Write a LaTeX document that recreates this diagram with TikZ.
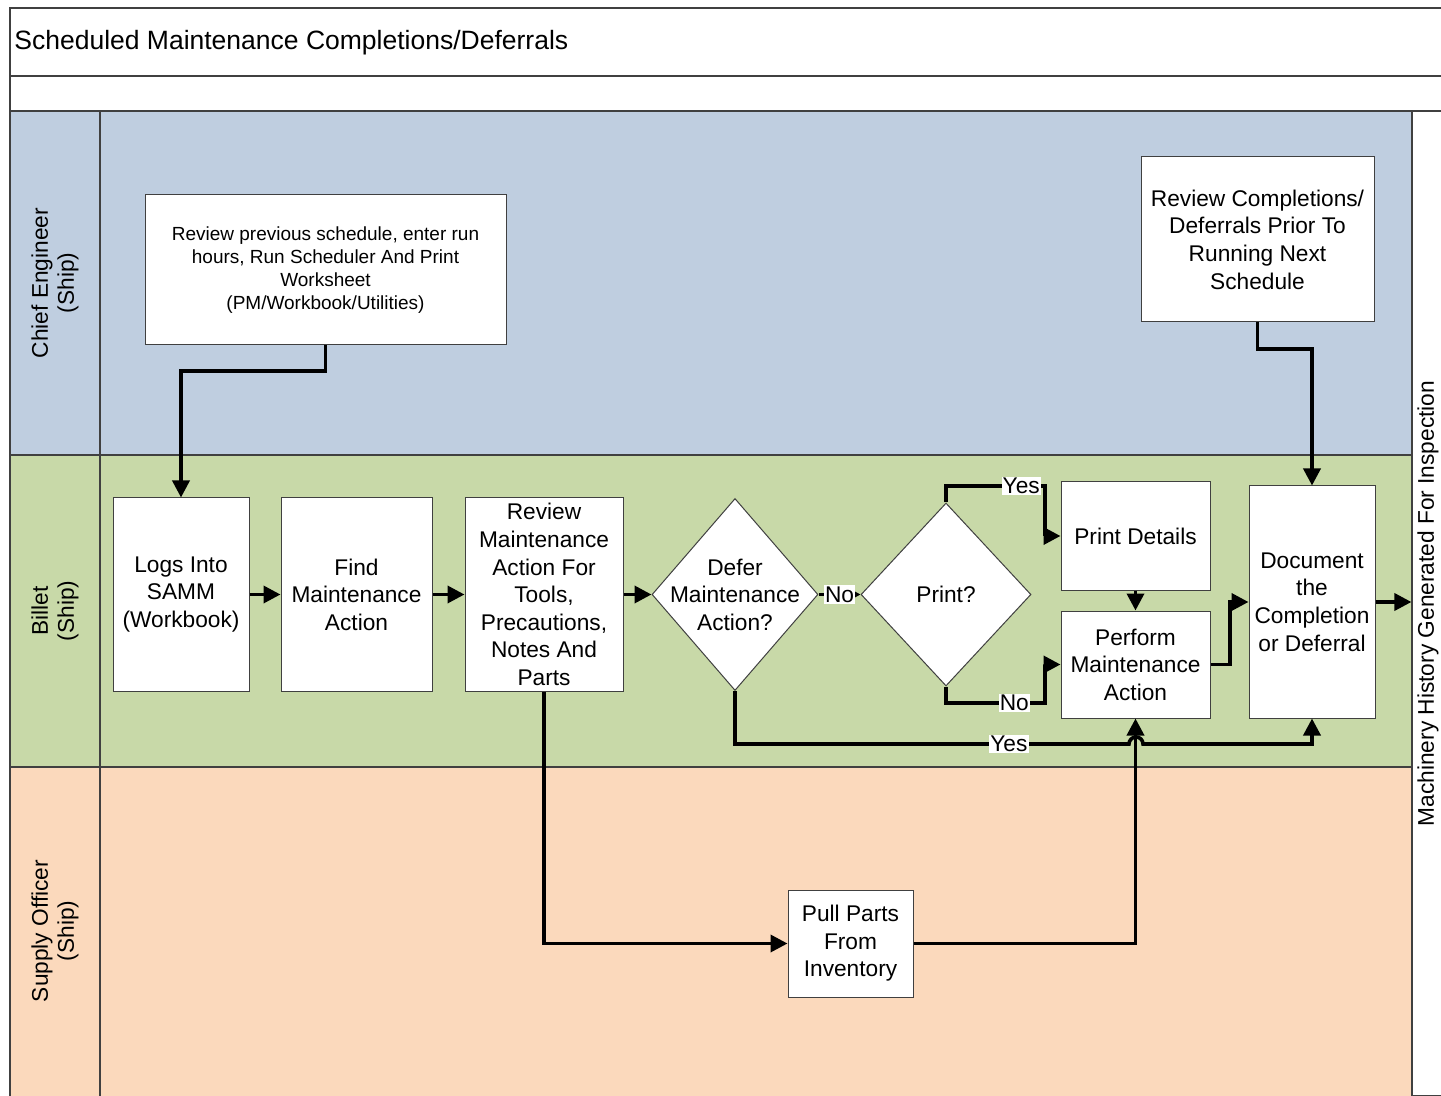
\documentclass[tikz,border=0pt]{standalone}
\usepackage{fontspec}
\setmainfont{Liberation Sans}
\usepackage{tikz}
\usetikzlibrary{arrows.meta,shapes.geometric}
\definecolor{chiefblue}{RGB}{191,206,224}
\definecolor{billetgreen}{RGB}{200,217,168}
\definecolor{supplypeach}{RGB}{251,217,188}
\definecolor{laneline}{RGB}{64,64,64}
\tikzset{
  boxfont/.style={font=\fontsize{11.35}{13.8}\selectfont},
  lane/.style={draw=laneline, line width=0.6pt},
  proc/.style={draw=black!75, fill=white, line width=0.5pt, align=center, inner sep=0pt, boxfont},
  decide/.style={diamond, draw=black!75, fill=white, line width=0.5pt, inner sep=0pt},
  flow/.style={line width=1.8pt, -{Triangle[length=8.5pt,width=8.5pt]}},
  yesno/.style={fill=white, inner sep=0.6pt, boxfont},
  lanehead/.style={rotate=90, align=center, font=\fontsize{11.35}{13}\selectfont}
}
\begin{document}
\begin{tikzpicture}[x=0.5pt,y=-0.5pt]
\useasboundingbox (0,0) rectangle (1441,1096);
\fill [white] (0,0) rectangle (1441,1096);
\draw [lane, fill=white] (10,8) rectangle (1460,76);
\draw [lane, fill=white] (10,76) rectangle (1460,111);
\draw [lane, fill=chiefblue] (10,111) rectangle (1412,455);
\draw [lane, fill=billetgreen] (10,455) rectangle (1412,767);
\draw [lane, fill=supplypeach] (10,767) rectangle (1412,1106);
\draw [lane] (100,111) -- (100,1096);
\node [anchor=base west, inner sep=0pt, font=\fontsize{13.25}{16}\selectfont] (title) at (14,50) {Scheduled Maintenance Completions/Deferrals};
\node [lanehead] (chief) at (55,283) {Chief Engineer\\(Ship)};
\node [lanehead] (billet) at (55,611) {Billet\\(Ship)};
\node [lanehead] (supply) at (55,931) {Supply Officer\\(Ship)};
\node [lane, fill=white, rotate=90, minimum width=492.5pt, minimum height=16pt, inner sep=0pt, boxfont] (hist) at (1428,603.5) {Machinery History Generated For Inspection};
\node [proc, minimum width=180.5pt, minimum height=75pt, font=\fontsize{9.5}{11.5}\selectfont] (sched) at (325.5,270) {Review previous schedule, enter run\\hours, Run Scheduler And Print\\Worksheet\\(PM/Workbook/Utilities)};
\node [proc, minimum width=116.5pt, minimum height=82.5pt] (revc) at (1257.5,239.5) {Review Completions/\\Deferrals Prior To\\Running Next\\Schedule};
\node [proc, minimum width=68pt, minimum height=96.5pt] (logs) at (181,594.5) {Logs Into\\SAMM\\(Workbook)};
\node [proc, minimum width=75.5pt, minimum height=96.5pt] (find) at (356.5,594.5) {Find\\Maintenance\\Action};
\node [proc, minimum width=79pt, minimum height=96.5pt] (rev) at (544,594.5) {Review\\Maintenance\\Action For\\Tools,\\Precautions,\\Notes And\\Parts};
\node [decide, minimum width=83pt, minimum height=96pt, label={[align=center, boxfont]center:Defer\\Maintenance\\Action?}] (defer) at (735,594.5) {};
\node [decide, minimum width=85pt, minimum height=91.5pt, label={[boxfont]center:Print?}] (print) at (946,594.5) {};
\node [proc, minimum width=74.5pt, minimum height=54pt] (pdet) at (1135.5,536) {Print Details};
\node [proc, minimum width=74.5pt, minimum height=53.5pt] (perf) at (1135.5,664.5) {Perform\\Maintenance\\Action};
\node [proc, minimum width=63pt, minimum height=116pt] (doc) at (1312,602) {Document\\the\\Completion\\or Deferral};
\node [proc, minimum width=62.5pt, minimum height=53.5pt] (pull) at (850.5,943.5) {Pull Parts\\From\\Inventory};
\draw [flow] (sched.south) -- (325.5,371) -| (logs.north);
\draw [flow] (revc.south) -- (1257.5,349) -| (doc.north);
\draw [flow] (logs.east) -- (find.west);
\draw [flow] (find.east) -- (rev.west);
\draw [flow] (rev.east) -- (defer.west);
\draw [flow, -{Triangle[length=4pt,width=4pt]}] (defer.east) -- node [yesno] {No} (print.west);
\draw [flow] (print.north) -- (946,486) -- node [yesno, pos=0.76] {Yes} (1045,486) |- (pdet.west);
\draw [flow] (print.south) -- (946,703) -- node [yesno, pos=0.69] {No} (1045,703) |- (perf.west);
\draw [flow] (pdet.south) -- (perf.north);
\draw [flow] (perf.east) -- (1230,664.5) |- (doc.west);
\draw [flow] (doc.east) -- (doc.east -| hist.north);
\draw [flow] (rev.south) |- (pull.west);
\draw [flow] (pull.east) -| (perf.south);
\draw [flow] (defer.south) -- (735,744) -- node [yesno, pos=0.695] {Yes} (1129,744) arc (180:360:7) -- (1312,744) -- (doc.south);
\end{tikzpicture}
\end{document}
